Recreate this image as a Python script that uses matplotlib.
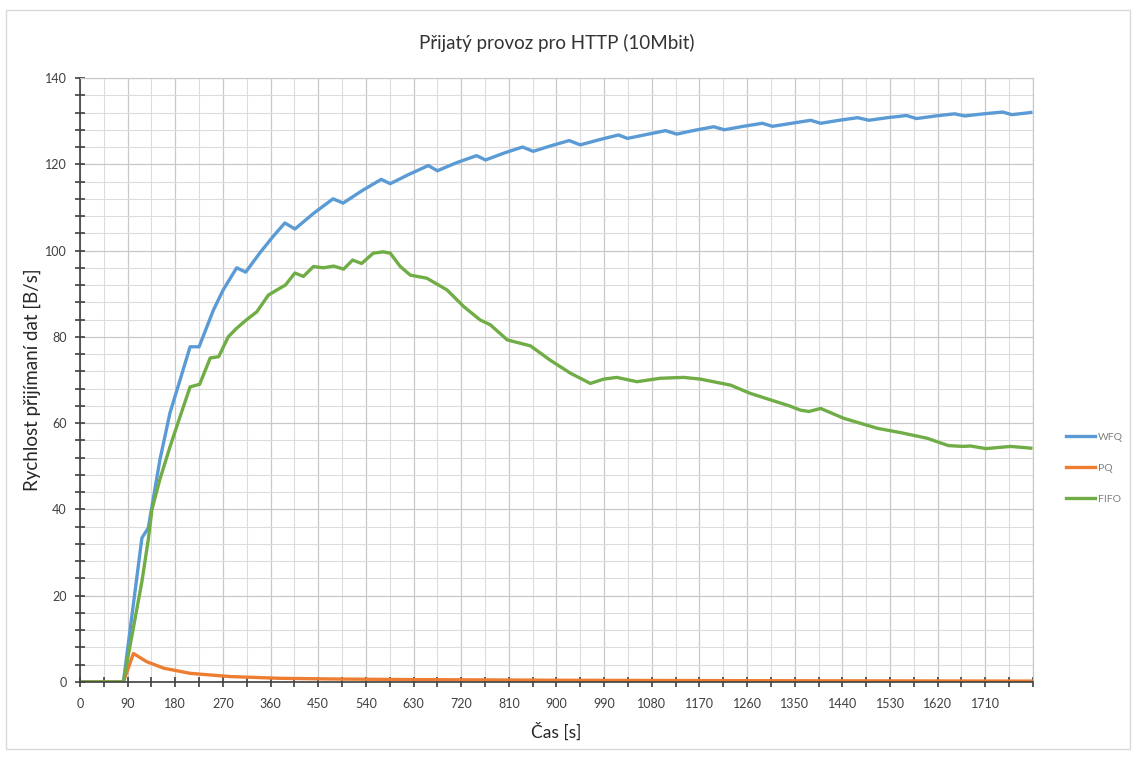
import matplotlib
matplotlib.use("Agg")
import matplotlib.pyplot as plt
from matplotlib.ticker import MultipleLocator, FixedLocator
from matplotlib.patches import Rectangle

plt.rcParams['font.family'] = ['Lato', 'DejaVu Sans']

# values
wfq_t = [0, 82, 117, 129, 151, 170, 189, 208, 225, 252,
         271, 296, 313, 340, 365, 387, 406, 442, 478, 497,
         533, 569, 586, 622, 658, 675, 712, 749, 766, 801,
         836, 856, 890, 924, 945, 981, 1017, 1034, 1070, 1106,
         1127, 1162, 1197, 1217, 1253, 1289, 1308, 1344, 1380, 1399,
         1434, 1469, 1490, 1525, 1561, 1580, 1616, 1652, 1671, 1707,
         1743, 1760, 1796]
wfq_v = [0, 0, 33.4, 35.7, 51.5, 62.4, 70, 77.7, 77.7, 86.2,
         91, 96, 95, 99.5, 103.3, 106.4, 105, 108.7, 112, 111,
         113.9, 116.5, 115.5, 117.7, 119.7, 118.5, 120.4, 122, 121, 122.6,
         124, 123, 124.3, 125.5, 124.5, 125.7, 126.8, 126, 126.9, 127.8,
         127, 127.9, 128.7, 128, 128.8, 129.5, 128.8, 129.5, 130.2, 129.5,
         130.2, 130.8, 130.2, 130.8, 131.3, 130.6, 131.2, 131.7, 131.2, 131.7,
         132.1, 131.5, 132]

pq_t = [0, 82, 101, 126, 158, 208, 284, 378, 472, 630, 900, 1260, 1796]
pq_v = [0, 0, 6.6, 4.7, 3.2, 2.0, 1.25, 0.85, 0.7, 0.55, 0.4, 0.3, 0.2]

fifo_t = [0, 82, 117, 129, 136, 151, 170, 189, 208, 226,
          246, 262, 280, 296, 315, 334, 356, 378, 388, 406,
          422, 441, 460, 479, 498, 515, 532, 554, 573, 586,
          605, 624, 655, 693, 725, 756, 775, 807, 832, 851,
          888, 926, 964, 989, 1014, 1052, 1096, 1140, 1172, 1229,
          1266, 1304, 1340, 1361, 1377, 1399, 1443, 1506, 1550, 1600,
          1640, 1667, 1682, 1711, 1758, 1796]
fifo_v = [0, 0, 23.3, 33, 40, 47, 54.5, 61.5, 68.4, 69,
          75.1, 75.4, 80, 82, 84, 85.8, 89.7, 91.3, 92, 94.8,
          94, 96.3, 96, 96.4, 95.7, 97.8, 97, 99.4, 99.7, 99.4,
          96.3, 94.3, 93.6, 90.9, 87, 83.9, 82.8, 79.3, 78.5, 77.9,
          74.6, 71.6, 69.2, 70.2, 70.6, 69.6, 70.4, 70.6, 70.2, 68.8,
          66.9, 65.4, 64.0, 63.0, 62.7, 63.4, 61.1, 58.8, 57.8, 56.5,
          54.8, 54.6, 54.7, 54.1, 54.6, 54.2]

x_labels = list(range(0, 1711, 90))

fig = plt.figure(figsize=(11.36, 7.58), dpi=100)
ax = fig.add_axes([0.0704, 0.1003, 0.8389, 0.7968])

# outer chart frame
fig.patches.append(Rectangle((0.005, 0.012), 0.99, 0.975, transform=fig.transFigure,
                             fill=False, edgecolor="#d9d9d9", linewidth=1.0))

ax.plot(wfq_t, wfq_v, color="#5B9BD5", lw=2.4, label="WFQ", solid_joinstyle="round")
ax.plot(pq_t, pq_v, color="#ED7D31", lw=2.4, label="PQ", solid_joinstyle="round")
ax.plot(fifo_t, fifo_v, color="#70AD47", lw=2.4, label="FIFO", solid_joinstyle="round")

ax.set_xlim(0, 1800)
ax.set_ylim(0, 140)

ax.xaxis.set_major_locator(FixedLocator(x_labels))
ax.xaxis.set_minor_locator(MultipleLocator(45))
ax.yaxis.set_major_locator(MultipleLocator(20))
ax.yaxis.set_minor_locator(MultipleLocator(4))

ax.grid(True, which="major", color="#c8c8c8", lw=0.9)
ax.grid(True, which="minor", color="#dcdcdc", lw=0.8)
ax.set_axisbelow(True)
# gridline at x end
ax.axvline(1800, color="#c8c8c8", lw=0.9, zorder=0)

ax.spines["top"].set_color("#c8c8c8")
ax.spines["right"].set_color("#c8c8c8")
ax.spines["left"].set_color("#404040")
ax.spines["bottom"].set_color("#404040")
ax.spines["left"].set_linewidth(1.2)
ax.spines["bottom"].set_linewidth(1.2)

ax.tick_params(which="both", direction="inout", color="#404040", width=1.2,
               labelsize=9, labelcolor="#404040", length=7)
ax.tick_params(axis="x", pad=8)
ax.tick_params(axis="y", pad=6)

ax.set_title("Přijatý provoz pro HTTP (10Mbit)", fontsize=13.5, color="#333333", pad=21)
ax.set_xlabel("Čas [s]", fontsize=12.5, color="#262626", labelpad=9)
ax.set_ylabel("Rychlost přijímaní dat [B/s]", fontsize=13.5, color="#262626", labelpad=3)

fig.legend(loc="upper left", bbox_to_anchor=(0.930, 0.442), frameon=False,
           fontsize=7.5, labelcolor="#7f7f7f", handlelength=2.8, handletextpad=0.3,
           labelspacing=2.1)

fig.savefig("out.png", dpi=100)
